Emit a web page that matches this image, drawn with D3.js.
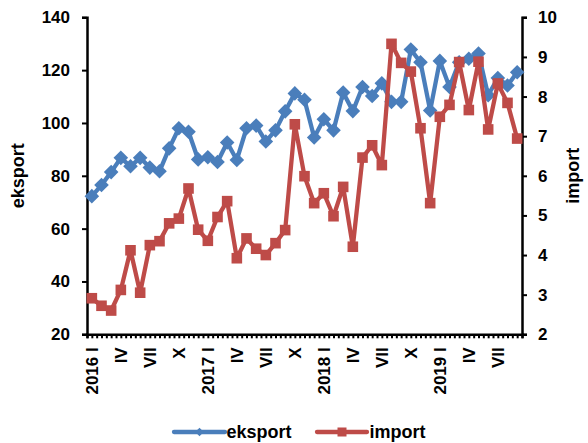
<!DOCTYPE html>
<html>
<head>
<meta charset="utf-8">
<script src="https://cdn.jsdelivr.net/npm/d3@7"></script>
<style>
html,body{margin:0;padding:0;background:#fff;}
svg{display:block;font-family:"Liberation Sans",Arial,sans-serif;font-weight:bold;}
</style>
</head>
<body>
<svg id="chart" width="588" height="443"></svg>
<script>
const categories = [
 "2016 I","2016 II","2016 III","2016 IV","2016 V","2016 VI","2016 VII","2016 VIII","2016 IX","2016 X","2016 XI","2016 XII",
 "2017 I","2017 II","2017 III","2017 IV","2017 V","2017 VI","2017 VII","2017 VIII","2017 IX","2017 X","2017 XI","2017 XII",
 "2018 I","2018 II","2018 III","2018 IV","2018 V","2018 VI","2018 VII","2018 VIII","2018 IX","2018 X","2018 XI","2018 XII",
 "2019 I","2019 II","2019 III","2019 IV","2019 V","2019 VI","2019 VII","2019 VIII","2019 IX"
];
const eksport = [72.3,76.5,81.4,86.8,83.6,86.8,83.1,81.7,90.4,98.0,96.7,86.2,87.0,85.2,92.6,86.0,98.0,99.0,93.0,97.2,104.4,111.2,108.8,94.5,101.4,97.2,111.5,104.5,113.6,110.2,115.0,108.0,108.0,127.8,123.0,104.7,123.5,113.6,123.0,124.3,126.3,110.5,117.0,114.2,119.2];
const importVals = [2.91,2.72,2.60,3.12,4.12,3.05,4.25,4.35,4.80,4.92,5.68,4.64,4.36,4.96,5.36,3.92,4.42,4.16,4.00,4.30,4.63,7.30,5.99,5.31,5.56,4.98,5.72,4.21,6.46,6.77,6.27,9.33,8.85,8.63,7.20,5.31,7.49,7.79,8.87,7.66,8.88,7.17,8.33,7.84,6.94];
const xTickLabels = ["2016 I","IV","VII","X","2017 I","IV","VII","X","2018 I","IV","VII","X","2019 I","IV","VII"];
const leftTicks = [20,40,60,80,100,120,140];
const rightTicks = [2,3,4,5,6,7,8,9,10];
const seriesNames = ["eksport","import"];

const svg = d3.select("#chart");
const L = 87, R = 522, T = 17.3, B = 334.3;
const blue = "#4A7EBB", red = "#BE4B48";

const x = d3.scaleLinear().domain([0, categories.length]).range([L, R]);
const yL = d3.scaleLinear().domain([20, 140]).range([B, T]);
const yR = d3.scaleLinear().domain([2, 10]).range([B, T]);
const cx = i => x(i + 0.5);

// axes
const fs = "17px";
const gL = svg.append("g").attr("transform", `translate(${L},0)`)
  .call(d3.axisLeft(yL).tickValues(leftTicks).tickSize(5).tickPadding(12).tickFormat(d3.format("d")));
const gR = svg.append("g").attr("transform", `translate(${R},0)`)
  .call(d3.axisRight(yR).tickValues(rightTicks).tickSize(5).tickPadding(11).tickFormat(d3.format("d")));
const gB = svg.append("g").attr("transform", `translate(0,${B})`)
  .call(d3.axisBottom(x).tickValues(d3.range(0, categories.length + 0.01, 0.5)).tickSize(4).tickFormat(""));
const labelIdx = xTickLabels.map((d, i) => i * 3);
const gBL = svg.append("g").attr("transform", `translate(0,${B})`)
  .call(d3.axisBottom(x).tickValues(labelIdx.map(i => i + 0.5)).tickSize(0).tickFormat((d, i) => xTickLabels[i]));
gBL.select(".domain").remove();
gBL.selectAll("text").attr("transform", "rotate(-90)").attr("x", -13).attr("y", 0).attr("dy", "0.36em")
  .style("text-anchor", "end");

[gL, gR, gB, gBL].forEach(g => {
  g.selectAll(".domain").attr("stroke", "#000").attr("stroke-width", 2.5);
  g.selectAll(".tick line").attr("stroke", "#000").attr("stroke-width", 2);
  g.selectAll("text").attr("fill", "#000").style("font-size", fs).style("font-weight", "bold")
    .style("font-family", '"Liberation Sans",Arial,sans-serif');
});

// axis titles
svg.append("text").attr("transform", `translate(18,${(T + B) / 2}) rotate(-90)`)
  .attr("text-anchor", "middle").attr("dy", "0.35em").style("font-size", "18px").text(seriesNames[0]);
svg.append("text").attr("transform", `translate(573,${(T + B) / 2}) rotate(-90)`)
  .attr("text-anchor", "middle").attr("dy", "0.35em").style("font-size", "18px").text(seriesNames[1]);

// lines
const lineE = d3.line().x((d, i) => cx(i)).y(d => yL(d));
const lineI = d3.line().x((d, i) => cx(i)).y(d => yR(d));
const diamond = s => `M0,${-s}L${s},0L0,${s}L${-s},0Z`;

svg.append("path").datum(eksport).attr("d", lineE).attr("fill", "none")
  .attr("stroke", blue).attr("stroke-width", 4.3).attr("stroke-linejoin", "round");
svg.append("g").selectAll("path").data(eksport).join("path")
  .attr("transform", (d, i) => `translate(${cx(i)},${yL(d)})`)
  .attr("d", diamond(7.3)).attr("fill", blue);

svg.append("path").datum(importVals).attr("d", lineI).attr("fill", "none")
  .attr("stroke", red).attr("stroke-width", 4.3).attr("stroke-linejoin", "round");
svg.append("g").selectAll("rect").data(importVals).join("rect")
  .attr("x", (d, i) => cx(i) - 5.3).attr("y", d => yR(d) - 5.3)
  .attr("width", 10.6).attr("height", 10.6).attr("fill", red);

// legend
const ly = 432;
const leg = svg.append("g");
leg.append("line").attr("x1", 174).attr("x2", 225).attr("y1", ly).attr("y2", ly)
  .attr("stroke", blue).attr("stroke-width", 4.3).attr("stroke-linecap", "round");
leg.append("path").attr("transform", `translate(199.5,${ly})`).attr("d", diamond(4.3)).attr("fill", blue);
leg.append("text").attr("x", 226.5).attr("y", ly).attr("dy", "0.35em").style("font-size", "18px").text(seriesNames[0]);
leg.append("line").attr("x1", 317).attr("x2", 367).attr("y1", ly).attr("y2", ly)
  .attr("stroke", red).attr("stroke-width", 4.3).attr("stroke-linecap", "round");
leg.append("rect").attr("x", 337.5).attr("y", ly - 4.5).attr("width", 9).attr("height", 9).attr("fill", red);
leg.append("text").attr("x", 369.5).attr("y", ly).attr("dy", "0.35em").style("font-size", "18px").text(seriesNames[1]);
</script>
</body>
</html>
